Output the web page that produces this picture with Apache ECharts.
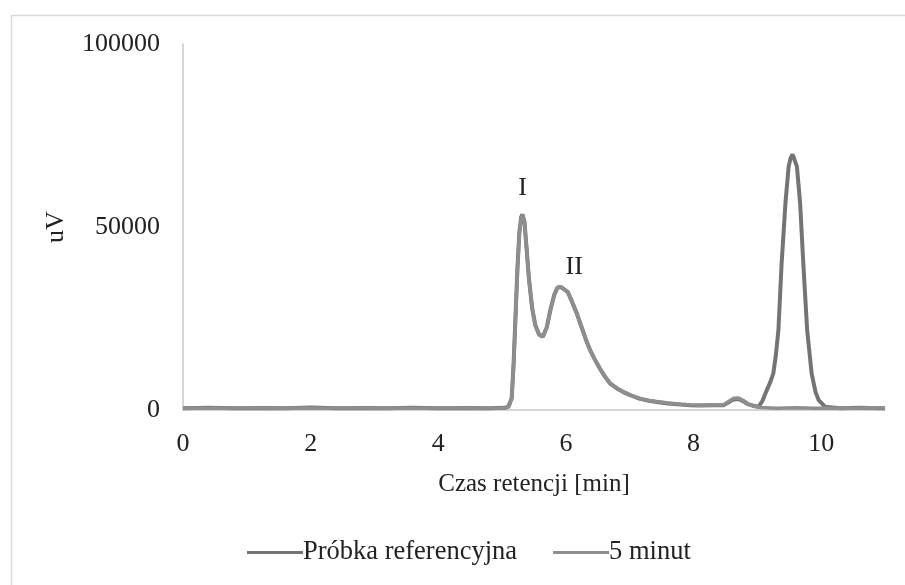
<!DOCTYPE html>
<html>
<head>
<meta charset="utf-8">
<script src="https://cdn.jsdelivr.net/npm/echarts@6/dist/echarts.min.js"></script>
<style>html,body{margin:0;padding:0;background:#fff}#c{width:905px;height:585px}</style>
</head>
<body>
<div id="c"></div>
<script>
// Retention time (min) and signal (uV)
const refTime =   [0, 0.4, 0.8, 1.2, 1.6, 2.0, 2.4, 2.8, 3.2, 3.6, 4.0, 4.4, 4.8, 5.05, 5.10, 5.15, 5.18, 5.21, 5.24, 5.27, 5.30, 5.32, 5.35, 5.38, 5.42, 5.47, 5.52, 5.58, 5.64, 5.70, 5.76, 5.82, 5.87, 5.92, 5.97, 6.03, 6.10, 6.17, 6.25, 6.32, 6.38, 6.45, 6.52, 6.60, 6.69, 6.80, 6.90, 7.00, 7.15, 7.30, 7.42, 7.60, 7.80, 7.95, 8.10, 8.30, 8.47, 8.55, 8.63, 8.70, 8.78, 8.85, 8.95, 9.02, 9.08, 9.15, 9.20, 9.25, 9.29, 9.33, 9.38, 9.44, 9.49, 9.52, 9.55, 9.58, 9.62, 9.67, 9.72, 9.78, 9.85, 9.91, 9.96, 10.06, 10.3, 10.6, 10.9, 11.0];
const refSignal = [500, 600, 450, 550, 500, 650, 500, 550, 450, 600, 500, 550, 500, 600, 900, 3200, 12500, 25500, 38500, 48500, 52800, 53400, 51500, 45000, 36000, 28000, 23200, 20600, 20100, 22600, 27600, 31600, 33500, 33600, 33000, 32200, 29400, 26400, 22400, 18900, 16300, 13900, 11700, 9400, 7300, 5900, 4900, 4100, 3100, 2500, 2200, 1800, 1500, 1300, 1200, 1300, 1300, 2100, 2900, 3000, 2400, 1600, 1100, 900, 2500, 5500, 7500, 10000, 15000, 21900, 40000, 56500, 66500, 68800, 69800, 68500, 66500, 56500, 40000, 21900, 10000, 5000, 2700, 900, 500, 600, 500, 500];
const minTime =   [0, 0.3, 0.7, 1.0, 1.4, 1.8, 2.2, 2.6, 3.0, 3.4, 3.8, 4.2, 4.6, 5.0, 5.10, 5.15, 5.18, 5.21, 5.24, 5.27, 5.30, 5.32, 5.35, 5.38, 5.42, 5.47, 5.52, 5.58, 5.64, 5.70, 5.76, 5.82, 5.87, 5.92, 5.97, 6.03, 6.10, 6.17, 6.25, 6.32, 6.38, 6.45, 6.52, 6.60, 6.69, 6.80, 6.90, 7.00, 7.15, 7.30, 7.42, 7.60, 7.80, 7.95, 8.10, 8.30, 8.47, 8.55, 8.63, 8.70, 8.78, 8.85, 8.95, 9.05, 9.3, 9.6, 9.9, 10.2, 10.5, 10.8, 11.0];
const minSignal = [450, 550, 500, 600, 450, 550, 500, 600, 500, 550, 450, 600, 500, 550, 800, 3000, 12000, 25000, 38000, 48000, 52500, 53300, 51500, 45000, 36000, 28000, 23000, 20500, 20000, 22500, 27500, 31500, 33400, 33700, 33000, 32300, 29500, 26500, 22500, 19000, 16400, 14000, 11800, 9500, 7400, 6000, 5000, 4200, 3200, 2600, 2300, 1900, 1600, 1400, 1300, 1400, 1400, 2300, 3200, 3300, 2600, 1700, 1000, 700, 500, 600, 450, 550, 500, 600, 500];
const seriesNames = ['Próbka referencyjna', '5 minut'];
const peakLabels = ['I', 'II'];
const peakLabelPos = [[5.32, 60600], [6.13, 39000]];
const yTicks = [0, 50000, 100000];

const chart = echarts.init(document.getElementById('c'));
const font = 'Liberation Serif';
chart.setOption({
  backgroundColor: '#fff',
  animation: false,
  graphic: [{
    type: 'rect', left: 9, top: 13, silent: true,
    shape: { width: 940, height: 620 },
    style: { fill: 'none', stroke: '#d9d9d9', lineWidth: 1.5 }
  }],
  grid: { left: 183, top: 44, right: 20, bottom: 175 },
  legend: {
    top: 534, left: 242,
    itemWidth: 56, itemHeight: 3, itemGap: 36,
    icon: 'rect',
    textStyle: { fontFamily: font, fontSize: 26.5, color: '#222', padding: [0, 0, 0, -5] },
    data: seriesNames
  },
  xAxis: {
    type: 'value', min: 0, max: 11, interval: 2,
    name: 'Czas retencji [min]', nameLocation: 'middle', nameGap: 62,
    nameTextStyle: { fontFamily: font, fontSize: 25, color: '#222' },
    axisLine: { show: true, onZero: false, lineStyle: { color: '#c8c8c8', width: 1.5 } },
    axisTick: { show: false },
    splitLine: { show: false },
    axisLabel: { fontFamily: font, fontSize: 26, color: '#222', margin: 21,
      formatter: v => (v % 2 === 0 && v <= 10) ? String(v) : '' }
  },
  yAxis: {
    type: 'value', min: 0, max: 100000, interval: 50000,
    name: 'uV', nameLocation: 'middle', nameGap: 114, nameRotate: 90,
    nameTextStyle: { fontFamily: font, fontSize: 26, color: '#222' },
    axisLine: { show: true, lineStyle: { color: '#c8c8c8', width: 1.5 } },
    axisTick: { show: false },
    splitLine: { show: false },
    axisLabel: { fontFamily: font, fontSize: 26, color: '#222', margin: 23,
      formatter: v => yTicks.includes(v) ? String(v) : '' }
  },
  series: [{
    name: seriesNames[0], type: 'line', showSymbol: false, symbol: 'none',
    data: refTime.map((t, i) => [t, refSignal[i]]),
    lineStyle: { color: '#747474', width: 4 },
    itemStyle: { color: '#747474' }
  }, {
    name: seriesNames[1], type: 'line', showSymbol: false, symbol: 'none',
    data: minTime.map((t, i) => [t, minSignal[i]]),
    lineStyle: { color: '#8e8e8e', width: 3.5 },
    itemStyle: { color: '#8e8e8e' },
    markPoint: {
      symbol: 'circle', symbolSize: 0,
      label: { show: true, position: 'inside', fontFamily: font, fontSize: 26, color: '#222',
        formatter: p => p.name },
      data: peakLabels.map((n, i) => ({ name: n, coord: peakLabelPos[i] }))
    }
  }]
});
</script>
</body>
</html>
